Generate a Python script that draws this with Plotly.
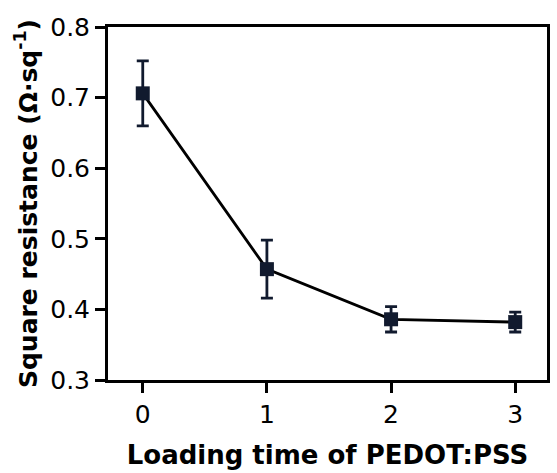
import plotly.graph_objects as go

x_vals = [0, 1, 2, 3]
resistance = [0.706, 0.457, 0.386, 0.382]
err = [0.046, 0.041, 0.018, 0.014]
x_ticks = [0, 1, 2, 3]
y_ticks = [0.3, 0.4, 0.5, 0.6, 0.7, 0.8]

fig = go.Figure()
fig.add_trace(go.Scatter(
    x=x_vals, y=resistance,
    mode="lines+markers",
    line=dict(color="black", width=2.8),
    marker=dict(symbol="square", size=14, color="#111a2e"),
    error_y=dict(type="data", array=err, visible=True, color="#111a2e", thickness=2.8, width=6),
    showlegend=False,
))

font_family = "DejaVu Sans, Arial, sans-serif"
fig.update_layout(
    width=557, height=473,
    margin=dict(l=108, r=7, t=27, b=93),
    paper_bgcolor="white", plot_bgcolor="white",
    font=dict(family=font_family, color="black"),
    xaxis=dict(
        range=[-0.28, 3.256], tickvals=x_ticks, ticktext=[str(v) for v in x_ticks],
        showline=True, linecolor="black", linewidth=3, mirror=True,
        ticks="outside", ticklen=10, tickwidth=3, tickcolor="black",
        showgrid=False, zeroline=False,
        tickfont=dict(size=25, family=font_family),
        title=dict(text="<b>Loading time of PEDOT:PSS</b>", font=dict(size=26, family=font_family), standoff=18),
    ),
    yaxis=dict(
        range=[0.3, 0.8], tickvals=y_ticks, ticktext=["%.1f" % v for v in y_ticks],
        showline=True, linecolor="black", linewidth=3, mirror=True,
        ticks="outside", ticklen=10, tickwidth=3, tickcolor="black",
        showgrid=False, zeroline=False,
        tickfont=dict(size=25, family=font_family),
        title=dict(text="<b>Square resistance (Ω·sq<sup>-1</sup>)</b>", font=dict(size=25, family=font_family), standoff=6),
    ),
)
fig.write_html("out.html")
